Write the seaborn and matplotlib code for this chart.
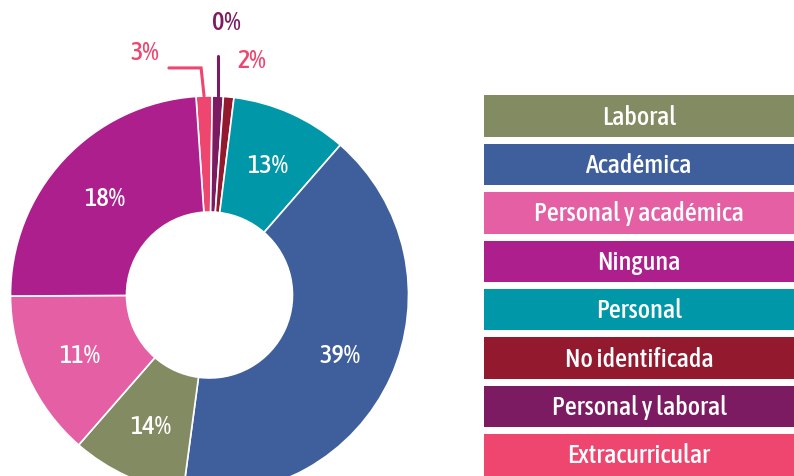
import numpy as np
import matplotlib
matplotlib.use("Agg")
import matplotlib.pyplot as plt
from matplotlib import font_manager
import seaborn as sns

# slices in the order they appear clockwise from the top of the donut
slice_names = ["Extracurricular", "Personal y laboral", "No identificada", "Personal",
               "Académica", "Laboral", "Personal y académica", "Ninguna"]
# share of the circle each slice takes in the picture (%)
shares = [1.3, 0.9, 0.85, 9.45, 40.7, 9.3, 13.5, 24.0]
# the percentage texts printed on the chart
pct_labels = ["3%", "0%", "2%", "13%", "39%", "14%", "11%", "18%"]

# legend order
legend_names = ["Laboral", "Académica", "Personal y académica", "Ninguna",
                "Personal", "No identificada", "Personal y laboral", "Extracurricular"]
palette = {
    "Laboral": "#838B62",
    "Académica": "#3E5F9B",
    "Personal y académica": "#E45FA3",
    "Ninguna": "#AD1F8C",
    "Personal": "#0097A8",
    "No identificada": "#93192E",
    "Personal y laboral": "#7D1B62",
    "Extracurricular": "#EE466F",
}

sns.set_theme(style="white")

# look for a narrow face of medium weight, the original uses a condensed typeface
def wnum(w):
    return w if isinstance(w, (int, float)) else font_manager.weight_dict.get(w, 400)

fonts = font_manager.fontManager.ttflist
named = [f for f in fonts if ("Condensed" in f.name or "Narrow" in f.name)
         and "Mono" not in f.name and f.style == "normal"]
stretched = [f for f in fonts if f.stretch not in ("normal", 500) and "Mono" not in f.name
             and f.style == "normal"]
pool = named or stretched
if pool:
    best = min(pool, key=lambda f: abs(wnum(f.weight) - 520))
    family, stretch, weight = best.name, best.stretch, wnum(best.weight)
else:
    family, stretch, weight = "Roboto", "normal", 500
plt.rcParams["font.family"] = [family, "DejaVu Sans"]
plt.rcParams["font.stretch"] = stretch
plt.rcParams["font.weight"] = weight
fs = 19

fig = plt.figure(figsize=(7.94, 4.77), dpi=100)

# donut
ax = fig.add_axes([10.5 / 794, -18 / 477, 398 / 794, 398 / 477])
big = [lab if s > 5 else "" for lab, s in zip(pct_labels, shares)]
wedges, texts = ax.pie(shares, colors=[palette[n] for n in slice_names],
                       startangle=93.9, counterclock=False,
                       labels=big, labeldistance=0.72,
                       wedgeprops=dict(width=0.583, edgecolor="white", linewidth=1.2),
                       textprops=dict(color="white", fontsize=fs))
for t in texts:
    t.set_ha("center")
ax.set_xlim(-1, 1)
ax.set_ylim(-1, 1)

def outer_mid(w):
    a = np.deg2rad((w.theta1 + w.theta2) / 2)
    return np.cos(a), np.sin(a)

# small slices: labels outside
x0, y0 = outer_mid(wedges[0])
ax.plot([x0, x0 - 0.015, -0.204], [y0, 1.141, 1.141], color=palette["Extracurricular"],
        lw=2.2, clip_on=False, solid_joinstyle="miter")
ax.text(-0.324, 1.226, pct_labels[0], color=palette["Extracurricular"], fontsize=fs,
        ha="center", va="center")

x1, y1 = outer_mid(wedges[1])
ax.plot([x1, x1], [y1, 1.201], color=palette["Personal y laboral"], lw=2.2, clip_on=False)
ax.text(0.083, 1.372, pct_labels[1], color=palette["Personal y laboral"], fontsize=fs,
        ha="center", va="center")

ax.text(0.211, 1.181, pct_labels[2], color=palette["Extracurricular"], fontsize=fs,
        ha="center", va="center")

# legend as a column of equal bars
ax2 = fig.add_axes([484 / 794, -3 / 477, 310 / 794, 387 / 477])
sns.barplot(x=[1] * len(legend_names), y=legend_names, hue=legend_names,
            palette=palette, width=0.857, saturation=1, legend=False,
            linewidth=0, ax=ax2)
ax2.set_xlim(0, 1)
ax2.set_ylim(len(legend_names) - 0.5, -0.5)
for i, name in enumerate(legend_names):
    ax2.text(0.5, i, name, color="white", fontsize=fs, ha="center", va="center")
ax2.axis("off")

fig.savefig("out.png", dpi=100, facecolor="white")
